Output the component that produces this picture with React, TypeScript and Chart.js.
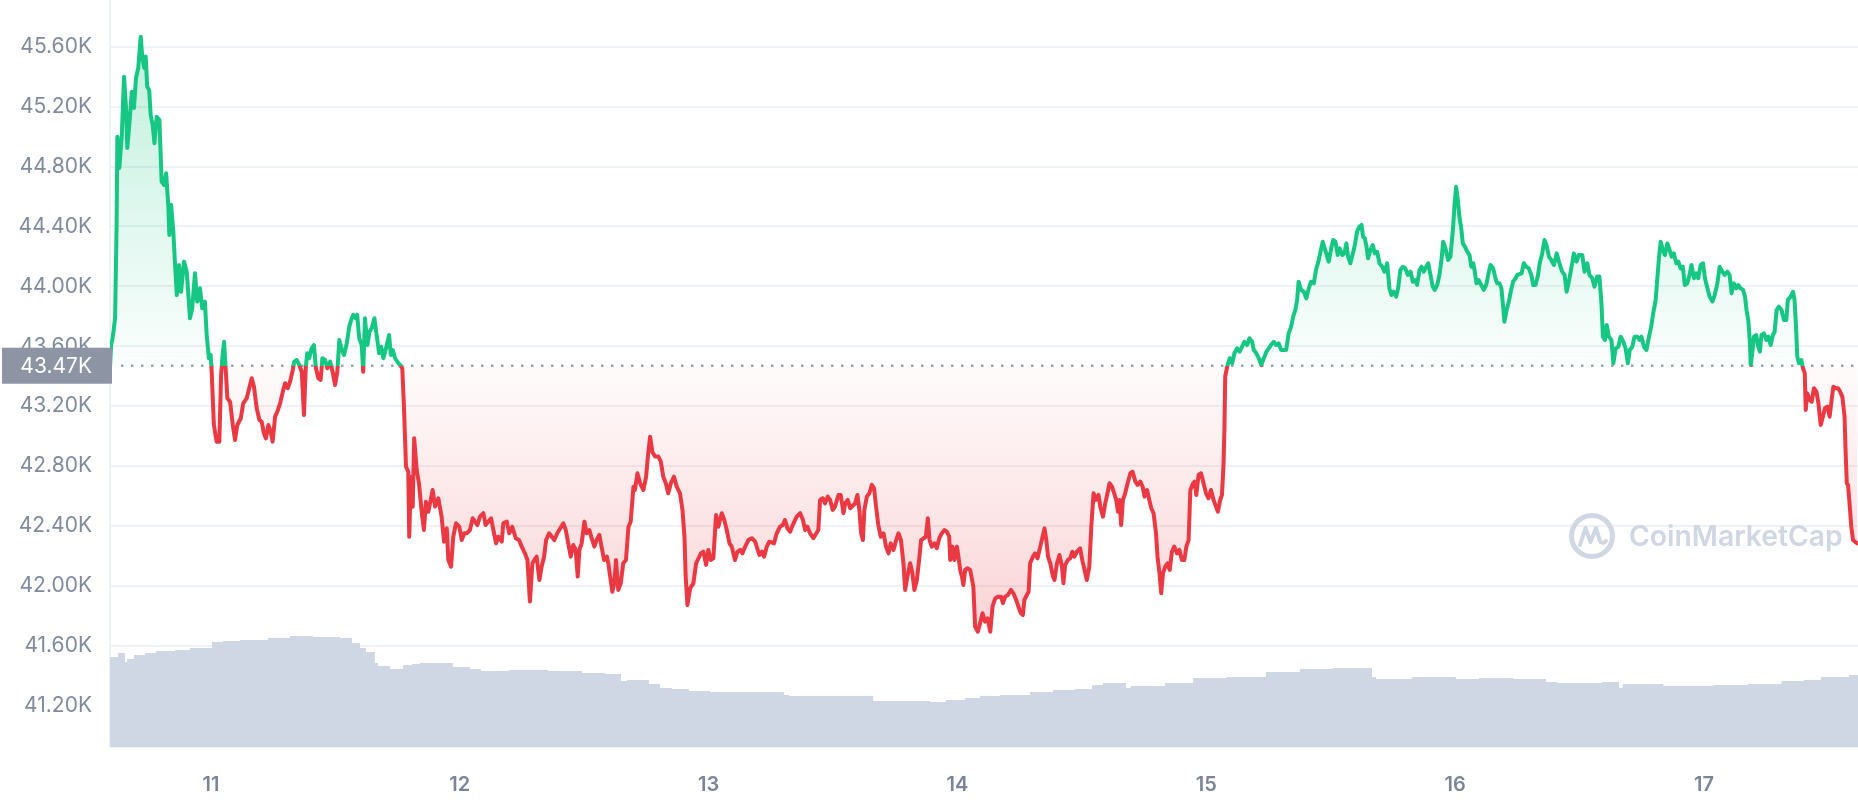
import React, { useEffect, useRef } from "react";
import { Chart, registerables } from "chart.js";

Chart.register(...registerables);

// ---------- data ----------
const BASELINE = 43470; // price at start of period (dotted reference line)
const X_MIN = 10.5945; // day of month (January) at left edge
const X_MAX = 17.619; // day of month at right edge
const Y_MIN = 40924;
const Y_MAX = 45912;
const VOL_MAX = 149.4;

const xTickDays = [11, 12, 13, 14, 15, 16, 17];
const yTickValues = [41200, 41600, 42000, 42400, 42800, 43200, 43600, 44000, 44400, 44800, 45200, 45600];

const priceDays = [
  10.595, 10.599, 10.605, 10.615, 10.621, 10.624, 10.632, 10.642, 10.651, 10.659, 10.664, 10.672, 10.682, 10.691, 10.699,
  10.708, 10.718, 10.724, 10.732, 10.738, 10.744, 10.752, 10.758, 10.766, 10.773, 10.782, 10.793, 10.802, 10.812, 10.82,
  10.829, 10.833, 10.84, 10.849, 10.856, 10.863, 10.872, 10.88, 10.892, 10.903, 10.916, 10.925, 10.936, 10.945, 10.956,
  10.965, 10.976, 10.983, 10.992, 10.999, 11.003, 11.012, 11.023, 11.034, 11.041, 11.047, 11.053, 11.06, 11.066, 11.077,
  11.088, 11.097, 11.106, 11.12, 11.13, 11.144, 11.154, 11.164, 11.173, 11.184, 11.195, 11.204, 11.213, 11.221, 11.231,
  11.24, 11.248, 11.258, 11.267, 11.278, 11.289, 11.298, 11.309, 11.318, 11.329, 11.335, 11.345, 11.355, 11.365, 11.374,
  11.381, 11.387, 11.395, 11.405, 11.414, 11.422, 11.432, 11.441, 11.448, 11.459, 11.468, 11.479, 11.489, 11.499, 11.508,
  11.516, 11.526, 11.535, 11.546, 11.556, 11.566, 11.572, 11.582, 11.588, 11.596, 11.606, 11.612, 11.619, 11.629, 11.637,
  11.646, 11.657, 11.666, 11.676, 11.684, 11.693, 11.702, 11.716, 11.723, 11.731, 11.74, 11.749, 11.76, 11.769, 11.776,
  11.784, 11.793, 11.797, 11.804, 11.811, 11.817, 11.827, 11.836, 11.847, 11.856, 11.864, 11.874, 11.891, 11.901, 11.914,
  11.927, 11.937, 11.948, 11.954, 11.965, 11.974, 11.985, 11.998, 12.008, 12.018, 12.028, 12.041, 12.052, 12.061, 12.071,
  12.081, 12.095, 12.104, 12.115, 12.126, 12.135, 12.146, 12.155, 12.169, 12.175, 12.189, 12.199, 12.211, 12.225, 12.238,
  12.249, 12.262, 12.272, 12.282, 12.292, 12.3, 12.309, 12.32, 12.329, 12.339, 12.347, 12.359, 12.37, 12.38, 12.392,
  12.4, 12.416, 12.426, 12.436, 12.446, 12.456, 12.466, 12.474, 12.481, 12.49, 12.501, 12.51, 12.521, 12.53, 12.541,
  12.55, 12.561, 12.571, 12.58, 12.591, 12.597, 12.613, 12.621, 12.628, 12.637, 12.647, 12.657, 12.668, 12.678, 12.687,
  12.698, 12.704, 12.714, 12.725, 12.738, 12.749, 12.756, 12.765, 12.774, 12.785, 12.798, 12.808, 12.818, 12.828, 12.838,
  12.848, 12.861, 12.872, 12.885, 12.895, 12.903, 12.908, 12.915, 12.926, 12.939, 12.95, 12.969, 12.979, 12.99, 12.999,
  13.009, 13.019, 13.03, 13.039, 13.053, 13.063, 13.073, 13.084, 13.093, 13.106, 13.116, 13.127, 13.136, 13.147, 13.16,
  13.174, 13.187, 13.204, 13.214, 13.223, 13.234, 13.244, 13.263, 13.274, 13.287, 13.298, 13.307, 13.317, 13.328, 13.338,
  13.354, 13.368, 13.379, 13.388, 13.397, 13.408, 13.421, 13.441, 13.448, 13.459, 13.468, 13.479, 13.488, 13.499, 13.508,
  13.522, 13.531, 13.542, 13.549, 13.559, 13.569, 13.589, 13.598, 13.606, 13.613, 13.62, 13.626, 13.636, 13.646, 13.656,
  13.665, 13.673, 13.682, 13.692, 13.703, 13.713, 13.723, 13.732, 13.743, 13.754, 13.763, 13.773, 13.783, 13.79, 13.799,
  13.81, 13.819, 13.827, 13.837, 13.846, 13.854, 13.873, 13.881, 13.888, 13.897, 13.908, 13.917, 13.927, 13.937, 13.948,
  13.957, 13.967, 13.971, 13.98, 13.988, 13.998, 14.004, 14.011, 14.018, 14.024, 14.031, 14.04, 14.051, 14.064, 14.071,
  14.082, 14.091, 14.101, 14.111, 14.121, 14.132, 14.141, 14.152, 14.165, 14.175, 14.183, 14.192, 14.203, 14.215, 14.225,
  14.236, 14.245, 14.255, 14.263, 14.269, 14.279, 14.286, 14.292, 14.303, 14.312, 14.322, 14.333, 14.342, 14.35, 14.357,
  14.364, 14.373, 14.384, 14.39, 14.4, 14.41, 14.42, 14.426, 14.433, 14.444, 14.453, 14.462, 14.47, 14.48, 14.493,
  14.503, 14.511, 14.52, 14.53, 14.538, 14.547, 14.557, 14.567, 14.574, 14.585, 14.594, 14.603, 14.611, 14.621, 14.63,
  14.638, 14.645, 14.651, 14.658, 14.665, 14.674, 14.684, 14.695, 14.704, 14.715, 14.724, 14.735, 14.744, 14.752, 14.762,
  14.771, 14.779, 14.788, 14.798, 14.804, 14.812, 14.819, 14.826, 14.835, 14.844, 14.853, 14.862, 14.871, 14.882, 14.892,
  14.902, 14.912, 14.92, 14.929, 14.936, 14.947, 14.953, 14.96, 14.969, 14.979, 14.989, 14.999, 15.009, 15.019, 15.029,
  15.039, 15.047, 15.056, 15.063, 15.069, 15.073, 15.076, 15.084, 15.094, 15.104, 15.113, 15.124, 15.134, 15.144, 15.153,
  15.164, 15.174, 15.184, 15.191, 15.201, 15.211, 15.221, 15.231, 15.242, 15.251, 15.26, 15.271, 15.281, 15.291, 15.301,
  15.321, 15.331, 15.341, 15.349, 15.358, 15.365, 15.371, 15.381, 15.392, 15.402, 15.412, 15.421, 15.432, 15.441, 15.452,
  15.459, 15.468, 15.476, 15.486, 15.492, 15.502, 15.51, 15.519, 15.528, 15.536, 15.546, 15.555, 15.563, 15.57, 15.579,
  15.589, 15.597, 15.606, 15.615, 15.624, 15.63, 15.637, 15.644, 15.65, 15.66, 15.669, 15.677, 15.687, 15.696, 15.707,
  15.716, 15.727, 15.736, 15.744, 15.753, 15.763, 15.771, 15.78, 15.79, 15.8, 15.81, 15.821, 15.83, 15.841, 15.847,
  15.857, 15.865, 15.874, 15.884, 15.892, 15.901, 15.91, 15.918, 15.928, 15.937, 15.945, 15.952, 15.961, 15.972, 15.981,
  15.991, 15.999, 16.004, 16.011, 16.018, 16.024, 16.031, 16.039, 16.049, 16.058, 16.065, 16.073, 16.079, 16.086, 16.095,
  16.105, 16.115, 16.125, 16.133, 16.142, 16.153, 16.162, 16.169, 16.178, 16.186, 16.193, 16.198, 16.207, 16.216, 16.225,
  16.233, 16.243, 16.25, 16.267, 16.276, 16.286, 16.296, 16.306, 16.314, 16.323, 16.332, 16.34, 16.35, 16.359, 16.367,
  16.377, 16.386, 16.397, 16.408, 16.417, 16.43, 16.44, 16.448, 16.457, 16.467, 16.477, 16.488, 16.497, 16.511, 16.52,
  16.531, 16.54, 16.551, 16.56, 16.571, 16.58, 16.588, 16.594, 16.602, 16.609, 16.618, 16.628, 16.636, 16.645, 16.656,
  16.665, 16.676, 16.685, 16.694, 16.702, 16.712, 16.721, 16.732, 16.741, 16.749, 16.759, 16.769, 16.779, 16.788, 16.796,
  16.806, 16.812, 16.819, 16.826, 16.835, 16.843, 16.853, 16.862, 16.87, 16.879, 16.889, 16.897, 16.906, 16.915, 16.923,
  16.933, 16.942, 16.95, 16.96, 16.969, 16.977, 16.987, 16.996, 17.004, 17.014, 17.023, 17.034, 17.043, 17.054, 17.063,
  17.074, 17.083, 17.094, 17.103, 17.111, 17.12, 17.13, 17.138, 17.147, 17.157, 17.165, 17.171, 17.178, 17.184, 17.188,
  17.194, 17.201, 17.21, 17.218, 17.225, 17.231, 17.241, 17.251, 17.259, 17.268, 17.277, 17.284, 17.292, 17.301, 17.312,
  17.321, 17.331, 17.337, 17.348, 17.358, 17.364, 17.37, 17.375, 17.382, 17.391, 17.398, 17.405, 17.409, 17.415, 17.425,
  17.433, 17.442, 17.452, 17.46, 17.469, 17.478, 17.486, 17.496, 17.505, 17.513, 17.52, 17.529, 17.539, 17.547, 17.556,
  17.565, 17.569, 17.574, 17.579, 17.586, 17.592, 17.599, 17.607, 17.615,
];

const prices = [
  43470, 43610, 43653, 43789, 44410, 44999, 44790, 45010, 45400, 45191, 44924, 45077, 45300, 45191, 45391,
  45458, 45667, 45534, 45458, 45534, 45333, 45311, 45144, 45077, 44955, 45133, 45111, 44699, 44677, 44755,
  44532, 44343, 44544, 44365, 44143, 43942, 44143, 43964, 44165, 44098, 43787, 43854, 44088, 43898, 43987,
  43854, 43898, 43676, 43520, 43543, 43432, 43074, 42963, 42963, 43408, 43542, 43630, 43430, 43253, 43230,
  43074, 42974, 43074, 43119, 43219, 43253, 43320, 43386, 43330, 43186, 43108, 43096, 43019, 42985, 43074,
  43030, 42963, 43130, 43163, 43219, 43297, 43353, 43320, 43363, 43441, 43497, 43508, 43475, 43430, 43141,
  43453, 43553, 43520, 43586, 43608, 43453, 43386, 43375, 43520, 43508, 43453, 43497, 43430, 43341, 43430,
  43642, 43575, 43542, 43620, 43731, 43787, 43809, 43787, 43809, 43653, 43608, 43430, 43787, 43608, 43697,
  43720, 43787, 43675, 43553, 43597, 43520, 43575, 43675, 43542, 43575, 43520, 43497, 43475, 43453, 43186,
  42796, 42762, 42328, 42729, 42529, 42985, 42774, 42685, 42495, 42373, 42562, 42495, 42640, 42529, 42585,
  42462, 42295, 42384, 42173, 42128, 42328, 42418, 42395, 42306, 42351, 42351, 42373, 42451, 42429, 42406,
  42462, 42485, 42406, 42429, 42451, 42373, 42284, 42328, 42295, 42418, 42429, 42351, 42395, 42318, 42306,
  42262, 42217, 42173, 41895, 42151, 42173, 42195, 42039, 42128, 42195, 42306, 42351, 42328, 42306, 42351,
  42373, 42418, 42373, 42284, 42195, 42273, 42240, 42062, 42240, 42284, 42429, 42351, 42373, 42318, 42262,
  42306, 42340, 42251, 42173, 42195, 42151, 41961, 42017, 42173, 41973, 42017, 42151, 42173, 42395, 42429,
  42662, 42640, 42752, 42685, 42640, 42729, 42863, 42996, 42896, 42863, 42863, 42829, 42729, 42685, 42618,
  42685, 42729, 42662, 42618, 42507, 42328, 42062, 41872, 41984, 42017, 42151, 42217, 42228, 42140, 42240,
  42173, 42184, 42473, 42395, 42485, 42440, 42373, 42284, 42262, 42173, 42228, 42240, 42217, 42262, 42306,
  42318, 42295, 42206, 42228, 42195, 42262, 42295, 42284, 42351, 42395, 42406, 42440, 42384, 42362, 42406,
  42462, 42485, 42440, 42373, 42395, 42351, 42318, 42373, 42574, 42585, 42551, 42596, 42574, 42507, 42529,
  42607, 42607, 42485, 42551, 42574, 42518, 42551, 42607, 42507, 42351, 42306, 42507, 42596, 42618, 42674,
  42651, 42529, 42406, 42328, 42351, 42262, 42217, 42284, 42240, 42306, 42351, 42306, 42151, 41973, 42062,
  42151, 42084, 41973, 42039, 42173, 42306, 42328, 42451, 42306, 42262, 42284, 42251, 42318, 42351, 42373,
  42362, 42328, 42173, 42262, 42173, 42262, 42195, 42106, 42062, 42006, 42106, 42117, 42106, 41995, 41728,
  41694, 41750, 41817, 41761, 41783, 41694, 41861, 41917, 41928, 41928, 41884, 41928, 41939, 41973, 41950,
  41906, 41861, 41817, 41806, 41906, 41939, 41961, 42151, 42195, 42217, 42184, 42262, 42328, 42384, 42306,
  42195, 42151, 42062, 42039, 42151, 42206, 42128, 42017, 42140, 42173, 42184, 42228, 42195, 42228, 42251,
  42162, 42106, 42039, 42128, 42395, 42618, 42574, 42607, 42529, 42462, 42551, 42618, 42685, 42662, 42618,
  42574, 42495, 42574, 42406, 42574, 42618, 42685, 42752, 42762, 42696, 42674, 42696, 42662, 42596, 42640,
  42574, 42518, 42485, 42351, 42195, 42084, 41950, 42084, 42128, 42151, 42106, 42228, 42262, 42217, 42240,
  42173, 42173, 42262, 42306, 42640, 42685, 42696, 42607, 42741, 42752, 42685, 42618, 42585, 42640, 42574,
  42529, 42495, 42574, 42607, 42796, 43050, 43397, 43463, 43520, 43486, 43553, 43586, 43564, 43597, 43630,
  43608, 43653, 43630, 43575, 43553, 43520, 43475, 43520, 43564, 43586, 43608, 43630, 43608, 43619, 43575,
  43575, 43686, 43731, 43798, 43842, 43909, 44031, 43976, 43964, 43920, 43987, 44031, 44020, 44109, 44176,
  44231, 44298, 44254, 44198, 44165, 44254, 44309, 44298, 44209, 44254, 44209, 44220, 44287, 44198, 44154,
  44220, 44276, 44365, 44398, 44410, 44332, 44321, 44265, 44187, 44243, 44276, 44220, 44231, 44154, 44131,
  44098, 44154, 43987, 43942, 43964, 43931, 43987, 44109, 44131, 44120, 44076, 44098, 44031, 44042, 44009,
  44109, 44131, 44098, 44131, 44154, 44076, 43998, 43976, 44009, 44076, 44176, 44298, 44254, 44176, 44198,
  44376, 44576, 44665, 44576, 44454, 44398, 44287, 44265, 44231, 44209, 44131, 44154, 44098, 44020, 44042,
  44009, 43976, 44009, 44076, 44143, 44120, 44054, 44020, 44020, 43987, 43864, 43764, 43842, 43898, 43976,
  44031, 44054, 44076, 44087, 44154, 44131, 44120, 44076, 44009, 44009, 44065, 44154, 44220, 44309, 44276,
  44198, 44176, 44143, 44220, 44165, 44098, 44076, 43964, 44031, 44120, 44220, 44165, 44209, 44209, 44098,
  44154, 44076, 44054, 43998, 44065, 44065, 43887, 43664, 43642, 43742, 43664, 43642, 43486, 43586, 43597,
  43664, 43630, 43586, 43486, 43575, 43597, 43664, 43664, 43642, 43664, 43597, 43575, 43664, 43731, 43820,
  43909, 44042, 44187, 44298, 44243, 44209, 44287, 44243, 44198, 44220, 44154, 44165, 44120, 44131, 44009,
  44020, 44076, 44143, 44054, 44087, 44054, 44143, 44154, 44054, 43987, 43931, 43898, 43942, 44020, 44131,
  44098, 44076, 44098, 44076, 43953, 44020, 43987, 44009, 43987, 43976, 43931, 43842, 43776, 43642, 43475,
  43553, 43664, 43675, 43597, 43564, 43675, 43686, 43642, 43664, 43608, 43675, 43697, 43842, 43864, 43842,
  43776, 43776, 43909, 43931, 43964, 43909, 43731, 43531, 43486, 43508, 43453, 43420, 43175, 43286, 43241,
  43230, 43320, 43297, 43219, 43074, 43130, 43186, 43197, 43130, 43241, 43330, 43320, 43320, 43297, 43264,
  43130, 42908, 42685, 42674, 42529, 42395, 42306, 42295, 42284,
];

// 24h volume (billions USD) drawn as a stepped band at the bottom
const volumeDays = [
  10.595, 10.627, 10.655, 10.663, 10.691, 10.735, 10.779, 10.856, 10.916, 11.004, 11.049, 11.117, 11.229, 11.318, 11.41,
  11.519, 11.567, 11.599, 11.623, 11.659, 11.671, 11.72, 11.772, 11.808, 11.84, 11.921, 11.973, 12.041, 12.085, 12.198,
  12.355, 12.411, 12.491, 12.584, 12.648, 12.672, 12.76, 12.805, 12.853, 12.921, 13.006, 13.122, 13.303, 13.323, 13.661,
  13.685, 13.89, 13.954, 14.03, 14.091, 14.171, 14.292, 14.384, 14.472, 14.541, 14.585, 14.677, 14.697, 14.834, 14.947,
  15.08, 15.24, 15.376, 15.509, 15.666, 15.682, 15.827, 16.003, 16.096, 16.233, 16.365, 16.41, 16.59, 16.659, 16.673,
  16.837, 17.038, 17.175, 17.312, 17.401, 17.47, 17.583, 17.619,
];
const volumes = [
  15.6, 18.0, 18.8, 17.0, 17.6, 18.4, 18.8, 19.2, 19.4, 19.8, 21.0, 21.2, 21.4, 21.8, 22.2,
  22.0, 21.8, 20.8, 19.8, 19.0, 16.8, 16.2, 15.6, 16.4, 16.6, 16.8, 16.8, 16.0, 15.6, 15.2,
  15.4, 15.2, 15.2, 14.8, 14.6, 13.2, 13.4, 12.6, 11.8, 11.6, 11.2, 11.0, 11.0, 10.4, 10.2,
  9.2, 9.2, 9.0, 9.4, 9.8, 10.2, 10.4, 11.0, 11.4, 11.6, 12.4, 12.8, 11.8, 12.2, 12.8,
  13.8, 14.0, 15.0, 15.6, 15.8, 14.0, 13.6, 14.0, 13.6, 13.8, 13.6, 13.0, 12.8, 13.0, 11.8,
  12.6, 12.2, 12.4, 12.6, 13.2, 13.4, 14.0, 14.4,
];

// ---------- styles ----------
const GREEN = "#16c784";
const RED = "#ea3943";
const GRID = "#eff2f5";
const LABEL = "#808a9d";
const FONT = "Inter, 'Noto Sans', sans-serif";

function splitStroke(chart: any) {
  const { ctx, chartArea, scales } = chart;
  if (!chartArea) return GREEN;
  const yb = scales.y.getPixelForValue(BASELINE);
  const t = Math.min(1, Math.max(0, (yb - chartArea.top) / (chartArea.bottom - chartArea.top)));
  const g = ctx.createLinearGradient(0, chartArea.top, 0, chartArea.bottom);
  g.addColorStop(0, GREEN);
  g.addColorStop(t, GREEN);
  g.addColorStop(t, RED);
  g.addColorStop(1, RED);
  return g;
}

function splitFill(chart: any) {
  const { ctx, chartArea, scales } = chart;
  if (!chartArea) return "rgba(0,0,0,0)";
  const yb = scales.y.getPixelForValue(BASELINE);
  const t = Math.min(1, Math.max(0, (yb - chartArea.top) / (chartArea.bottom - chartArea.top)));
  const g = ctx.createLinearGradient(0, chartArea.top, 0, chartArea.bottom);
  g.addColorStop(0, "rgba(22,199,132,0.30)");
  g.addColorStop(t, "rgba(22,199,132,0.02)");
  g.addColorStop(t, "rgba(234,57,67,0.02)");
  g.addColorStop(1, "rgba(234,57,67,0.30)");
  return g;
}

const overlayPlugin = {
  id: "cmcOverlay",
  beforeDatasetsDraw(chart: any) {
    const { ctx, chartArea, scales } = chart;
    const yb = scales.y.getPixelForValue(BASELINE);
    ctx.save();
    // watermark
    const cx = chartArea.right - 266;
    const cy = chartArea.bottom - 211;
    ctx.strokeStyle = "#cfd6e4";
    ctx.lineWidth = 5;
    ctx.lineCap = "round";
    ctx.lineJoin = "round";
    ctx.beginPath();
    ctx.arc(cx, cy, 20.5, 0, Math.PI * 2);
    ctx.stroke();
    ctx.lineWidth = 4;
    ctx.beginPath();
    ctx.moveTo(cx - 12, cy + 9);
    ctx.lineTo(cx - 6.5, cy - 8);
    ctx.lineTo(cx - 1.5, cy + 6);
    ctx.lineTo(cx + 4, cy - 8);
    ctx.lineTo(cx + 8, cy + 5);
    ctx.quadraticCurveTo(cx + 10, cy + 9, cx + 14, cy + 5);
    ctx.stroke();
    ctx.fillStyle = "#cfd6e4";
    const word = "CoinMarketCap";
    const targetWidth = 214;
    ctx.font = `600 30px ${FONT}`;
    const w = ctx.measureText(word).width || targetWidth;
    const size = Math.min(34, (30 * targetWidth) / w);
    ctx.font = `600 ${size.toFixed(1)}px ${FONT}`;
    ctx.textAlign = "left";
    ctx.textBaseline = "alphabetic";
    ctx.fillText(word, chartArea.right - 229, chartArea.bottom - 201);
    // dotted baseline
    ctx.strokeStyle = "#9ba1ad";
    ctx.lineWidth = 2.5;
    ctx.lineCap = "butt";
    ctx.setLineDash([2.5, 7.5]);
    ctx.beginPath();
    ctx.moveTo(chartArea.left + 11, yb);
    ctx.lineTo(chartArea.right, yb);
    ctx.stroke();
    ctx.restore();
  },
  afterDraw(chart: any) {
    const { ctx, chartArea, scales } = chart;
    const yb = scales.y.getPixelForValue(BASELINE);
    ctx.save();
    ctx.fillStyle = "#8d94a3";
    ctx.fillRect(2, yb - 18, chartArea.left, 36);
    ctx.fillStyle = "#ffffff";
    ctx.font = `21px ${FONT}`;
    ctx.textAlign = "right";
    ctx.textBaseline = "middle";
    ctx.fillText((BASELINE / 1000).toFixed(2) + "K", chartArea.left - 18, yb + 1);
    ctx.restore();
  },
};

export default function App() {
  const ref = useRef<HTMLCanvasElement>(null);

  useEffect(() => {
    document.body.style.margin = "0";
    const canvas = ref.current;
    if (!canvas) return;

    const priceData = priceDays.map((d, i) => ({ x: d, y: prices[i] }));
    const volumeData = volumeDays.map((d, i) => ({ x: d, y: volumes[i] }));

    const chart = new Chart(canvas, {
      type: "line",
      data: {
        datasets: [
          {
            label: "Price",
            data: priceData,
            yAxisID: "y",
            borderWidth: 4,
            borderColor: (c: any) => splitStroke(c.chart),
            backgroundColor: (c: any) => splitFill(c.chart),
            fill: { value: BASELINE },
            pointRadius: 0,
            pointHoverRadius: 0,
            tension: 0,
            borderJoinStyle: "round",
            borderCapStyle: "round",
            order: 0,
          },
          {
            label: "Volume",
            data: volumeData,
            yAxisID: "y2",
            borderWidth: 0,
            borderColor: "rgba(0,0,0,0)",
            backgroundColor: "#cfd6e4",
            fill: "origin",
            stepped: "after",
            pointRadius: 0,
            pointHoverRadius: 0,
            order: 1,
          },
        ],
      },
      options: {
        responsive: false,
        animation: false,
        devicePixelRatio: 1,
        layout: { padding: 0, autoPadding: false },
        plugins: {
          legend: { display: false },
          tooltip: { enabled: false },
        },
        events: [],
        scales: {
          x: {
            type: "linear",
            min: X_MIN,
            max: X_MAX,
            afterBuildTicks: (scale: any) => {
              scale.ticks = xTickDays.map((v) => ({ value: v }));
            },
            afterFit: (scale: any) => {
              scale.height = 53;
              scale.paddingLeft = 0;
              scale.paddingRight = 0;
            },
            grid: { display: false, drawTicks: false },
            border: { display: true, color: GRID, width: 2 },
            ticks: {
              padding: 26,
              color: "#7b8599",
              font: { family: FONT, size: 20, weight: 600 },
              maxRotation: 0,
              autoSkip: false,
              callback: (v: any) => String(v),
            },
          },
          y: {
            type: "linear",
            position: "left",
            min: Y_MIN,
            max: Y_MAX,
            afterBuildTicks: (scale: any) => {
              scale.ticks = yTickValues.map((v) => ({ value: v }));
            },
            afterFit: (scale: any) => {
              scale.width = 110;
              scale.paddingTop = 0;
              scale.paddingBottom = 0;
            },
            grid: { color: GRID, lineWidth: 2, drawTicks: false },
            border: { display: true, color: GRID, width: 2 },
            ticks: {
              padding: 18,
              color: LABEL,
              font: { family: FONT, size: 21, weight: 400 },
              autoSkip: false,
              callback: (v: any) => (Number(v) / 1000).toFixed(2) + "K",
            },
          },
          y2: {
            type: "linear",
            display: false,
            min: 0,
            max: VOL_MAX,
          },
        },
      } as any,
      plugins: [overlayPlugin],
    });

    return () => chart.destroy();
  }, []);

  return (
    <div style={{ width: 1858, height: 800 }}>
      <canvas ref={ref} width={1858} height={800} style={{ display: "block" }} />
    </div>
  );
}
